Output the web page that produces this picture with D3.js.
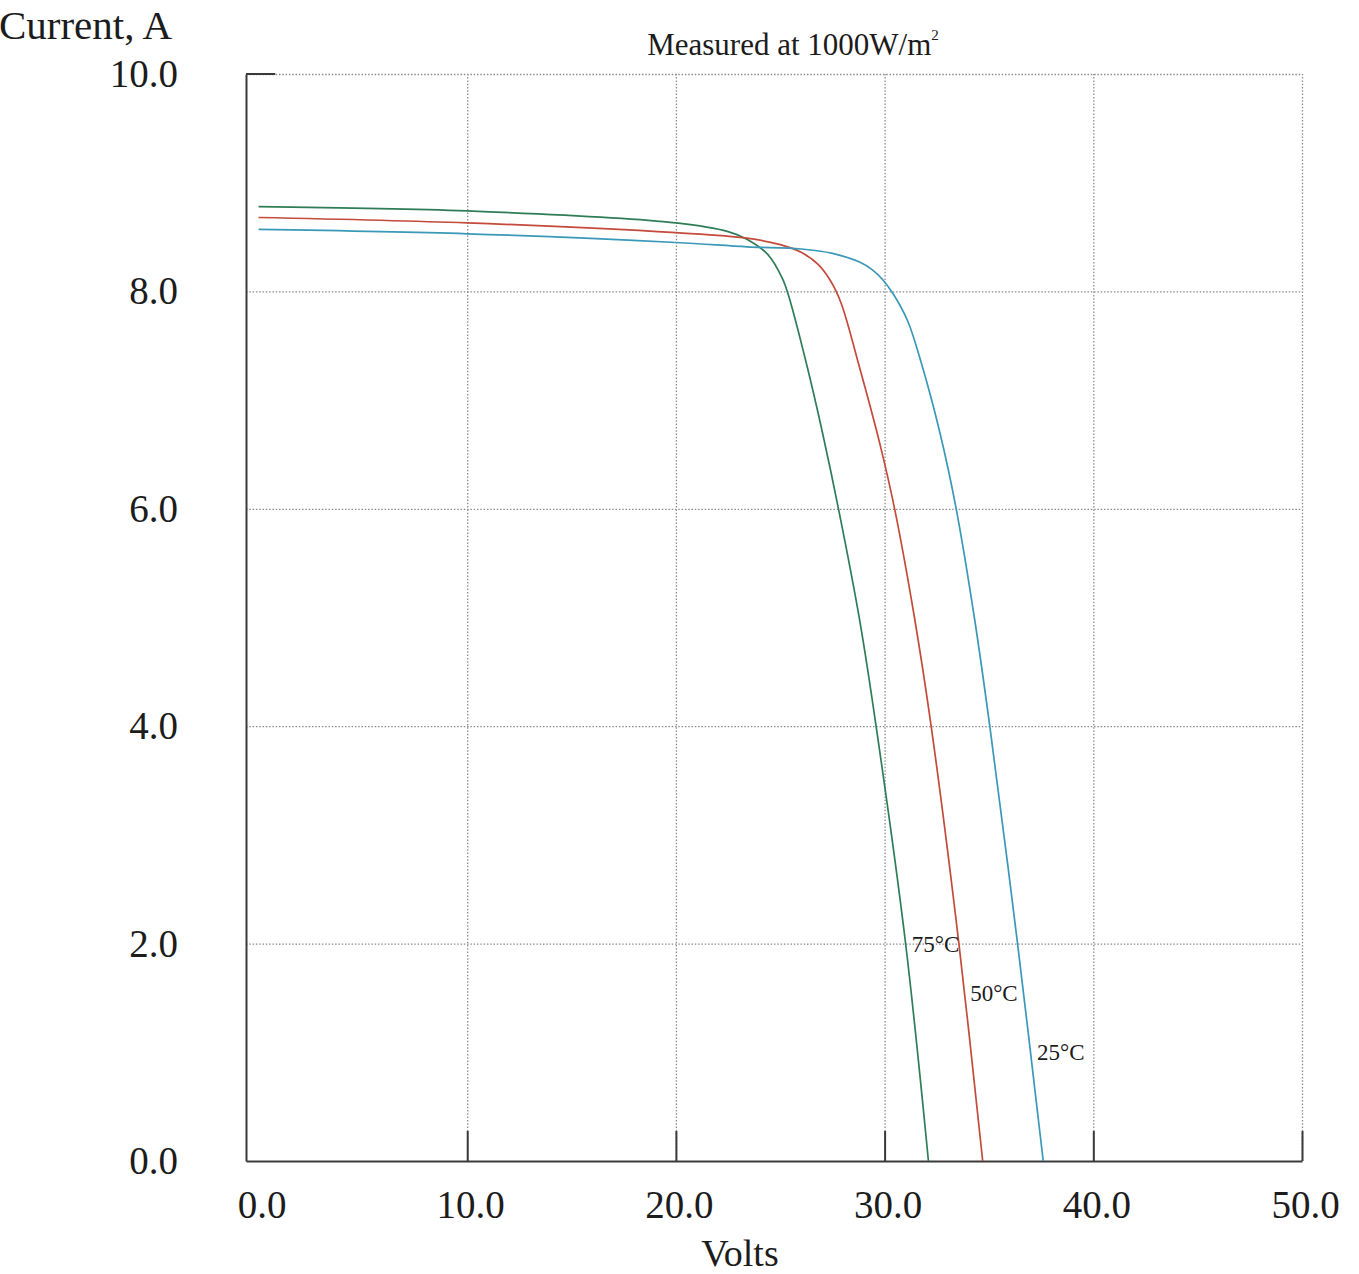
<!DOCTYPE html>
<html>
<head>
<meta charset="utf-8">
<script src="https://cdn.jsdelivr.net/npm/d3@7"></script>
<style>
  body { margin: 0; background: #fff; }
  svg { font-family: "Liberation Serif", "Times New Roman", serif; }
  .grid line { stroke: #8c8c8c; stroke-width: 1.3; stroke-dasharray: 1.5,1.8; }
  .grid .domain { display: none; }
  .axis path, .axis line { stroke: #3a3a3a; stroke-width: 2; }
  .axis text { fill: #1c1c1c; }
  .curve { fill: none; stroke-width: 1.7; }
</style>
</head>
<body>
<div id="graphic"></div>
<script>
// tick values
const xTicks = [0, 10, 20, 30, 40, 50];
const yTicks = [0, 2, 4, 6, 8, 10];

// 75°C curve (green)
const volts75 = [0, 10, 20, 22.5, 23.4, 24.4, 25.1, 25.4, 26.3, 27.0, 27.8, 28.8, 29.6, 31.0, 32.1];
const amps75  = [8.78, 8.74, 8.63, 8.55, 8.48, 8.34, 8.12, 7.96, 7.30, 6.72, 5.99, 4.98, 3.99, 2.01, 0];

// 50°C curve (red)
const volts50 = [0, 10, 20, 23.4, 25.0, 26.0, 26.8, 27.4, 27.9, 28.8, 29.77, 30.48, 31.43, 32.23, 33.56, 34.7];
const amps50  = [8.68, 8.63, 8.54, 8.49, 8.43, 8.36, 8.25, 8.10, 7.90, 7.30, 6.60, 6.00, 5.00, 4.00, 2.00, 0];

// 25°C curve (blue)
const volts25 = [0, 10, 20, 23.4, 26.0, 27.5, 28.8, 29.4, 29.9, 30.4, 31.1, 31.7, 32.65, 33.43, 34.3, 35.04, 36.37, 37.6];
const amps25  = [8.57, 8.53, 8.45, 8.41, 8.39, 8.35, 8.27, 8.20, 8.11, 7.98, 7.73, 7.38, 6.70, 6.00, 5.00, 4.00, 2.00, 0];

// curve labels
const labelText  = ["75°C", "50°C", "25°C"];
const labelVolts = [31.3, 34.1, 37.3];
const labelAmps  = [2.0, 1.55, 1.0];

const W = 1359, H = 1274;

const svg = d3.select("#graphic").append("svg")
  .attr("width", W)
  .attr("height", H);

const x = d3.scaleLinear()
  .domain([-0.6, 50])
  .range([246, 1302]);

const y = d3.scaleLinear()
  .domain([0, 10])
  .range([1161, 74]);

// dotted grid
svg.append("g")
  .attr("class", "grid")
  .attr("transform", `translate(0,${y(0)})`)
  .call(d3.axisBottom(x)
    .tickValues(xTicks.slice(1))
    .tickSize(-(y(0) - y(10)))
    .tickFormat(""));

svg.append("g")
  .attr("class", "grid")
  .attr("transform", `translate(${x(-0.6)},0)`)
  .call(d3.axisLeft(y)
    .tickValues(yTicks.slice(1))
    .tickSize(-(x(50) - x(-0.6)))
    .tickFormat(""));

// x axis, small ticks pointing up
const gx = svg.append("g")
  .attr("class", "axis")
  .attr("transform", `translate(0,${y(0)})`)
  .call(d3.axisBottom(x)
    .tickValues(xTicks)
    .tickSizeInner(-30)
    .tickSizeOuter(0)
    .tickPadding(29)
    .tickFormat(d3.format(".1f")))
  .attr("font-family", null)
  .attr("font-size", 39);
gx.selectAll(".tick").filter(d => d === 0).select("line").remove();
gx.selectAll(".tick text").attr("dx", 3);

// y axis
const gy = svg.append("g")
  .attr("class", "axis")
  .attr("transform", `translate(${x(-0.6)},0)`)
  .call(d3.axisLeft(y)
    .tickValues(yTicks)
    .tickSize(0)
    .tickPadding(68)
    .tickFormat(d3.format(".1f")))
  .attr("font-family", null)
  .attr("font-size", 39);

// short solid piece at the top of the y axis
svg.append("line")
  .attr("x1", x(-0.6)).attr("x2", x(0.8))
  .attr("y1", y(10)).attr("y2", y(10))
  .attr("stroke", "#3a3a3a")
  .attr("stroke-width", 2);

// curves
const series = [
  { v: volts75, a: amps75, color: "#2f7d58" },
  { v: volts50, a: amps50, color: "#c44a3c" },
  { v: volts25, a: amps25, color: "#3a98b9" }
];

const line = d3.line()
  .x(d => x(d[0]))
  .y(d => y(d[1]))
  .curve(d3.curveCatmullRom.alpha(0.5));

svg.selectAll(".curve")
  .data(series)
  .enter()
  .append("path")
  .attr("class", "curve")
  .attr("stroke", d => d.color)
  .attr("d", d => line(d.v.map((v, i) => [v, d.a[i]])));

// curve labels
svg.selectAll(".clabel")
  .data(labelText)
  .enter()
  .append("text")
  .attr("class", "clabel")
  .attr("x", (d, i) => x(labelVolts[i]))
  .attr("y", (d, i) => y(labelAmps[i]))
  .attr("dy", "0.35em")
  .attr("font-size", 23)
  .attr("fill", "#1c1c1c")
  .text(d => d);

// titles
const title = svg.append("text")
  .attr("x", 793)
  .attr("y", 55)
  .attr("text-anchor", "middle")
  .attr("font-size", 31)
  .attr("fill", "#1c1c1c")
  .text("Measured at 1000W/m");
title.append("tspan")
  .attr("font-size", 15)
  .attr("dy", -15)
  .text("2");

svg.append("text")
  .attr("x", 172)
  .attr("y", 39)
  .attr("text-anchor", "end")
  .attr("font-size", 41)
  .attr("fill", "#1c1c1c")
  .text("Current, A");

svg.append("text")
  .attr("x", 740)
  .attr("y", 1266)
  .attr("text-anchor", "middle")
  .attr("font-size", 38)
  .attr("fill", "#1c1c1c")
  .text("Volts");
</script>
</body>
</html>
